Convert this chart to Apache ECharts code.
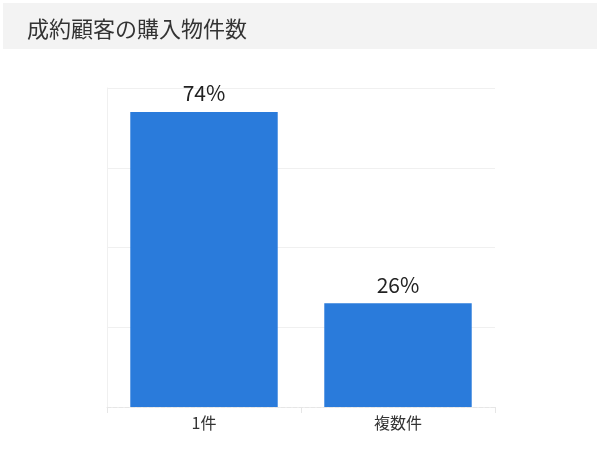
<!DOCTYPE html>
<html><head><meta charset="utf-8">
<script src="https://cdn.jsdelivr.net/npm/echarts@6/dist/echarts.min.js"></script>
<style>html,body{margin:0;padding:0;background:#fff}#c{width:600px;height:450px}</style>
</head><body><div id="c"></div>
<script>
const titleText = '成約顧客の購入物件数';
const categories = ['1件', '複数件'];
const values = [74, 26];
const yTicks = [0, 20, 40, 60, 80];

const chart = echarts.init(document.getElementById('c'), null, {renderer: 'canvas'});
chart.setOption({
  animation: false,
  graphic: [{
    type: 'rect', left: 3, top: 3, z: -10,
    shape: {width: 594, height: 46},
    style: {fill: '#f3f3f3'}
  }],
  title: {
    text: titleText, left: 22, top: 13,
    textStyle: {fontSize: 22, fontWeight: 'normal', color: '#333', fontFamily: 'Noto Sans CJK JP'}
  },
  grid: {left: 107, right: 105, top: 88, bottom: 43},
  xAxis: {
    type: 'category', data: categories,
    axisLine: {lineStyle: {color: '#e6e6e6', type: 'dashed'}},
    axisTick: {show: true, length: 6, lineStyle: {color: '#e6e6e6'}},
    axisLabel: {fontSize: 16, color: '#333', margin: 8, fontFamily: 'Noto Sans CJK JP'}
  },
  yAxis: {
    type: 'value', min: yTicks[0], max: yTicks[yTicks.length - 1], interval: 20,
    axisLine: {show: true, lineStyle: {color: '#f0f0f0'}},
    axisTick: {show: false},
    axisLabel: {show: false},
    splitLine: {lineStyle: {color: '#f0f0f0'}}
  },
  series: [{
    type: 'bar', data: values, barWidth: '76%',
    itemStyle: {color: '#2a7bdb'},
    label: {
      show: true, position: 'top', distance: 8, formatter: '{c}%',
      fontSize: 21, color: '#222', fontFamily: 'Noto Sans CJK JP'
    }
  }]
});
</script></body></html>
